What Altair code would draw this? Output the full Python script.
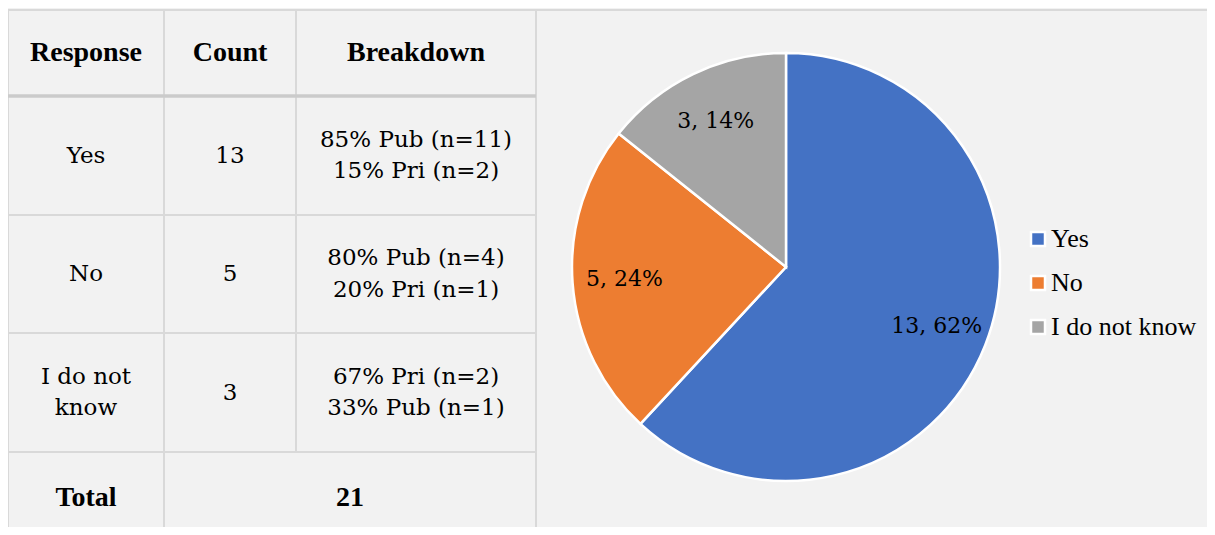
import altair as alt
import pandas as pd

# ---------------- data ----------------
headers = ["Response", "Count", "Breakdown"]
responses = ["Yes", "No", "I do not know"]
response_cell_text = ["Yes", "No", "I do not\nknow"]
counts = [13, 5, 3]
breakdown_line1 = ["85% Pub (n=11)", "80% Pub (n=4)", "67% Pri (n=2)"]
breakdown_line2 = ["15% Pri (n=2)", "20% Pri (n=1)", "33% Pub (n=1)"]
total_label = "Total"
colors = ["#4472C4", "#ED7D31", "#A5A5A5"]

total = sum(counts)

# ---------------- layout (pixels inside chart) ----------------
W, H = 1199, 519
FONT_BOLD = "Liberation Serif"
FONT = "DejaVu Serif"
FONT_LEGEND = "Times New Roman"
COL_EDGES = [0, 156, 288, 528]
ROW_EDGES = [2, 88, 207, 325, 444, H]
TOTAL_ROW_CENTER = 490
PIE_CX, PIE_CY, PIE_R = 778, 259, 214
LABEL_R = 162
LINE_H = 31.5
GRID = "#d9d9d9"

xs = alt.Scale(domain=[0, W], range=[0, W], nice=False, zero=False)
ys = alt.Scale(domain=[0, H], range=[0, H], nice=False, zero=False)

col_c = [(COL_EDGES[i] + COL_EDGES[i + 1]) / 2 for i in range(3)]
row_c = [(ROW_EDGES[i] + ROW_EDGES[i + 1]) / 2 for i in range(4)]

# grid lines
vlines = pd.DataFrame({
    "x": [COL_EDGES[0], COL_EDGES[1], COL_EDGES[2], COL_EDGES[3]],
    "y1": [ROW_EDGES[0]] * 4,
    "y2": [H, H, ROW_EDGES[4], H],
})
hlines = pd.DataFrame({
    "y": [ROW_EDGES[0], ROW_EDGES[2], ROW_EDGES[3], ROW_EDGES[4]],
    "x1": [0, 0, 0, 0],
    "x2": [W, COL_EDGES[3], COL_EDGES[3], COL_EDGES[3]],
})
hhead = pd.DataFrame({"y": [ROW_EDGES[1]], "x1": [0], "x2": [COL_EDGES[3]]})

vl = alt.Chart(vlines).mark_rule(color=GRID, strokeWidth=2).encode(
    x=alt.X("x:Q", scale=xs, axis=None),
    y=alt.Y("y1:Q", scale=ys, axis=None), y2="y2:Q")
hl = alt.Chart(hlines).mark_rule(color=GRID, strokeWidth=2).encode(
    y=alt.Y("y:Q", scale=ys, axis=None),
    x=alt.X("x1:Q", scale=xs, axis=None), x2="x2:Q")
hh = alt.Chart(hhead).mark_rule(color="#cbcbcb", strokeWidth=3.5).encode(
    y=alt.Y("y:Q", scale=ys, axis=None),
    x=alt.X("x1:Q", scale=xs, axis=None), x2="x2:Q")

# header + total (bold)
bold_df = pd.DataFrame({
    "x": col_c + [col_c[0], (COL_EDGES[1] + COL_EDGES[3]) / 2],
    "y": [row_c[0]] * 3 + [TOTAL_ROW_CENTER] * 2,
    "t": headers + [total_label, str(total)],
})
bold_txt = alt.Chart(bold_df).mark_text(
    font=FONT_BOLD, fontSize=28, fontWeight="bold", color="black",
    align="center", baseline="middle").encode(
    x=alt.X("x:Q", scale=xs, axis=None),
    y=alt.Y("y:Q", scale=ys, axis=None), text="t:N")

body_rows = []
for i in range(3):
    cy = row_c[i + 1]
    r_txt = response_cell_text[i]
    body_rows.append({"x": col_c[0], "t": r_txt,
                      "y": cy - (r_txt.count("\n")) * LINE_H / 2})
    body_rows.append({"x": col_c[1], "y": cy, "t": str(counts[i])})
    body_rows.append({"x": col_c[2], "y": cy - LINE_H / 2,
                      "t": breakdown_line1[i] + "\n" + breakdown_line2[i]})
body_txt = alt.Chart(pd.DataFrame(body_rows)).mark_text(
    font=FONT, fontSize=23, color="black",
    align="center", baseline="middle",
    lineBreak="\n", lineHeight=LINE_H).encode(
    x=alt.X("x:Q", scale=xs, axis=None),
    y=alt.Y("y:Q", scale=ys, axis=None), text="t:N")

# ---------------- pie ----------------
pie_df = pd.DataFrame({
    "response": responses,
    "count": counts,
    "idx": list(range(len(responses))),
    "label": [f"{c}, {round(100 * c / total)}%" for c in counts],
})
color_scale = alt.Scale(domain=responses, range=colors)

arc = alt.Chart(pie_df).mark_arc(
    outerRadius=PIE_R, stroke="white", strokeWidth=2.5).encode(
    theta=alt.Theta("count:Q", stack=True),
    order=alt.Order("idx:Q"),
    color=alt.Color("response:N", scale=color_scale, sort=responses,
                    legend=alt.Legend(title=None, orient="none",
                                      legendX=1017, legendY=218)),
    x=alt.value(PIE_CX), y=alt.value(PIE_CY))

arc_lbl = alt.Chart(pie_df).mark_text(
    radius=LABEL_R, font=FONT, fontSize=22,
    color="black", align="center", baseline="middle").encode(
    theta=alt.Theta("count:Q", stack=True),
    order=alt.Order("idx:Q"),
    text="label:N",
    x=alt.value(PIE_CX), y=alt.value(PIE_CY))

chart = alt.layer(vl, hl, hh, bold_txt, body_txt, arc, arc_lbl).properties(
    width=W, height=H, padding=0, autosize="none", background="#f2f2f2"
).configure_view(stroke=None).configure_legend(
    symbolType="square", symbolSize=196, symbolStrokeColor="white",
    symbolStrokeWidth=2.5, labelFont=FONT_LEGEND, labelFontSize=26,
    labelColor="black", rowPadding=18, labelOffset=0, padding=0,
    labelLimit=400
)

chart.save("out.html", embed_options={"renderer": "svg", "actions": False})
